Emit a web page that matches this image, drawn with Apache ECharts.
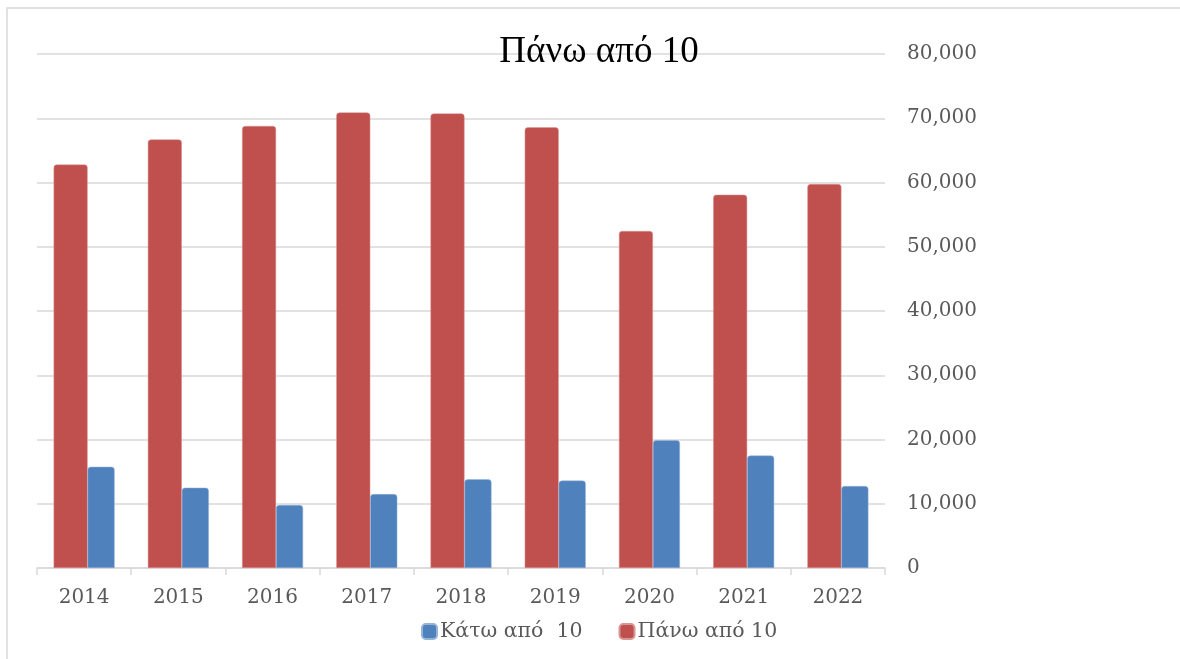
<!DOCTYPE html>
<html>
<head>
<meta charset="utf-8">
<script src="https://cdn.jsdelivr.net/npm/echarts@6/dist/echarts.min.js"></script>
<style>
html,body{margin:0;padding:0;background:#fff;}
#chart{width:1180px;height:659px;}
</style>
</head>
<body>
<div id="chart"></div>
<script>
const categories = ['2014','2015','2016','2017','2018','2019','2020','2021','2022'];
const aboveName = 'Πάνω από 10';
const belowName = 'Κάτω από  10';
const aboveValues = [62800, 66700, 68800, 70900, 70750, 68600, 52450, 58100, 59750];
const belowValues = [15750, 12500, 9800, 11500, 13800, 13600, 19900, 17500, 12750];
const yTicks = [0, 10000, 20000, 30000, 40000, 50000, 60000, 70000, 80000];

const labelFont = 'DejaVu Serif';
const chart = echarts.init(document.getElementById('chart'));
chart.setOption({
  animation: false,
  backgroundColor: '#fff',
  graphic: [{
    type: 'rect',
    shape: {x: 7, y: 8, width: 1300, height: 800},
    style: {fill: 'none', stroke: '#d9d9d9', lineWidth: 1.5},
    silent: true, z: -10
  }],
  title: {
    text: aboveName,
    left: 594, top: 29, textAlign: 'center',
    textStyle: {fontFamily: 'Liberation Serif', fontSize: 37, fontWeight: 'normal', color: '#000'}
  },
  legend: {
    data: [belowName, aboveName],
    left: 416, top: 616,
    itemWidth: 15, itemHeight: 15, itemGap: 36,
    icon: 'roundRect',
    textStyle: {fontFamily: labelFont, fontSize: 20.5, color: '#595959', padding: [0,0,0,-2]}
  },
  grid: {left: 37, right: 295, top: 54, bottom: 91, containLabel: false},
  xAxis: {
    type: 'category',
    data: categories,
    axisLine: {lineStyle: {color: '#d9d9d9', width: 1.5}},
    axisTick: {show: true, length: 7, alignWithLabel: false, lineStyle: {color: '#d9d9d9', width: 1.5}},
    axisLabel: {fontFamily: labelFont, fontSize: 20, color: '#595959', margin: 20}
  },
  yAxis: {
    type: 'value',
    position: 'right',
    min: yTicks[0], max: yTicks[yTicks.length-1], interval: 10000,
    axisLine: {show: false},
    axisTick: {show: false},
    splitLine: {lineStyle: {color: '#d9d9d9', width: 1.5}},
    axisLabel: {
      fontFamily: labelFont, fontSize: 20, color: '#595959', margin: 22, align: 'left',
      formatter: v => v === 0 ? '0' : v.toLocaleString('en-US')
    }
  },
  series: [
    {
      name: aboveName, type: 'bar', data: aboveValues,
      barWidth: 34, barGap: '0%',
      itemStyle: {color: '#c0504d', borderRadius: [3,3,0,0], borderColor: '#d99694', borderWidth: 0.5}
    },
    {
      name: belowName, type: 'bar', data: belowValues,
      barWidth: 27, barGap: '0%',
      itemStyle: {color: '#4f81bd', borderRadius: [3,3,0,0], borderColor: '#95b3d7', borderWidth: 0.5}
    }
  ]
});
</script>
</body>
</html>
